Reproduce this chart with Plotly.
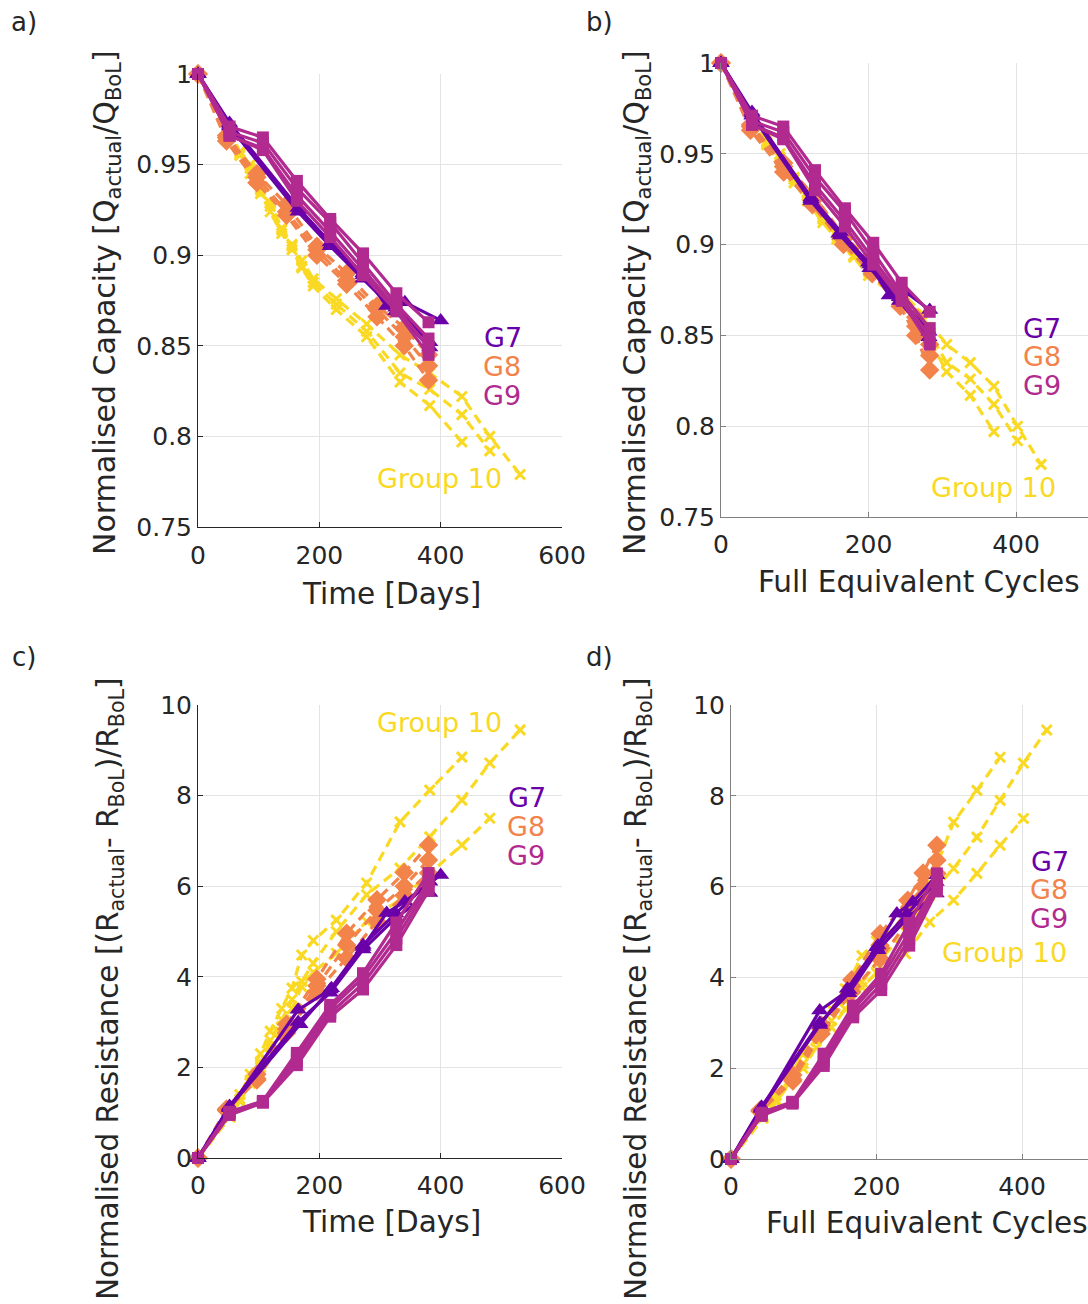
import plotly.graph_objects as go

# ---------------- data ----------------
# Group 7 (three cells)
g7_days = [[0, 52, 168, 220, 272, 311, 341, 400],
           [0, 52, 165, 218, 272, 326, 382],
           [0, 52, 165, 218, 272, 326, 382]]
g7_fec = [[0, 42, 122, 160, 200, 228, 250, 283],
          [0, 42, 122, 162, 202, 242, 282],
          [0, 42, 122, 162, 202, 242, 282]]
g7_cap = [[1, 0.973, 0.925, 0.906, 0.890, 0.872, 0.874, 0.864],
          [1, 0.972, 0.926, 0.907, 0.889, 0.871, 0.852],
          [1, 0.971, 0.924, 0.905, 0.887, 0.869, 0.849]]
g7_res = [[0, 1.12, 2.95, 3.75, 4.66, 5.41, 5.66, 6.25],
          [0, 1.10, 3.27, 3.72, 4.70, 5.40, 6.10],
          [0, 1.15, 3.00, 3.65, 4.60, 5.30, 5.85]]

# Group 8 (three cells)
g8_days = [[0, 47, 97, 146, 196, 245, 295, 340, 380]] * 3
g8_fec = [[0, 40, 85, 124, 166, 205, 243, 264, 283]] * 3
g8_cap = [[1, 0.966, 0.945, 0.928, 0.905, 0.890, 0.872, 0.860, 0.845],
          [1, 0.965, 0.943, 0.924, 0.903, 0.886, 0.870, 0.855, 0.839],
          [1, 0.963, 0.940, 0.922, 0.900, 0.884, 0.866, 0.850, 0.831]]
g8_res = [[0, 1.05, 1.72, 2.76, 3.68, 4.41, 5.22, 5.80, 6.29],
          [0, 1.06, 1.75, 2.85, 3.80, 4.70, 5.47, 6.00, 6.58],
          [0, 1.08, 1.85, 2.95, 3.95, 4.96, 5.70, 6.30, 6.91]]

# Group 9 (four cells)
g9_days = [[0, 52, 107, 163, 218, 272, 327, 380]] * 4
g9_fec = [[0, 42, 84.5, 127.5, 168, 206.5, 245, 283]] * 4
g9_cap = [[1, 0.971, 0.965, 0.941, 0.920, 0.901, 0.879, 0.863],
          [1, 0.968, 0.962, 0.937, 0.918, 0.896, 0.873, 0.854],
          [1, 0.966, 0.959, 0.933, 0.913, 0.892, 0.871, 0.849],
          [1, 0.966, 0.958, 0.930, 0.910, 0.889, 0.869, 0.845]]
g9_res = [[0, 0.95, 1.22, 2.05, 3.12, 3.72, 4.70, 5.90],
          [0, 0.98, 1.24, 2.15, 3.20, 3.85, 4.85, 6.00],
          [0, 1.00, 1.25, 2.25, 3.30, 3.98, 5.00, 6.10],
          [0, 1.02, 1.26, 2.32, 3.38, 4.08, 5.20, 6.29]]

# Group 10 (three cells)
g10_days_all = [0, 53, 69, 86, 103, 119, 138, 155, 171, 190, 228, 278, 333, 382, 435, 481, 531]
g10_fec_all = [0, 44, 62, 80, 99, 117, 138, 157, 180, 200, 240, 273, 306, 338, 370, 402, 434]
g10_len = [15, 17, 16]
g10_cap = [[1, 0.967, 0.955, 0.945, 0.934, 0.924, 0.912, 0.903, 0.893, 0.883, 0.870, 0.855, 0.830, 0.817, 0.797],
           [1, 0.968, 0.957, 0.950, 0.937, 0.929, 0.915, 0.906, 0.897, 0.887, 0.876, 0.862, 0.845, 0.835, 0.822, 0.800, 0.779],
           [1, 0.968, 0.956, 0.948, 0.936, 0.927, 0.914, 0.905, 0.894, 0.885, 0.873, 0.858, 0.835, 0.826, 0.812, 0.792]]
g10_res = [[0, 0.95, 1.40, 1.85, 2.30, 2.80, 3.30, 3.75, 4.48, 4.80, 5.25, 6.07, 7.42, 8.12, 8.85],
           [0, 0.92, 1.30, 1.72, 2.10, 2.60, 3.05, 3.50, 3.90, 4.30, 5.00, 5.81, 6.40, 7.09, 7.90, 8.72, 9.45],
           [0, 0.90, 1.25, 1.65, 2.00, 2.45, 2.90, 3.30, 3.78, 4.10, 4.52, 5.22, 5.70, 6.29, 6.91, 7.50]]

group_labels = ["G7", "G8", "G9", "Group 10"]
cap_ticks = [0.75, 0.8, 0.85, 0.9, 0.95, 1]
cap_ticktext = ["0.75", "0.8", "0.85", "0.9", "0.95", "1"]
res_ticks = [0, 2, 4, 6, 8, 10]
day_ticks = [0, 200, 400, 600]
fec_ticks = [0, 200, 400]

# ---------------- style ----------------
C7 = "#6a00a8"
C8 = "#f2844b"
C9 = "#b12a90"
C10 = "#f9d923"
FONT = "DejaVu Sans"
W, H = 1088, 1304

styles = {
    "G7": dict(color=C7, dash="solid", symbol="triangle-up", size=15),
    "G8": dict(color=C8, dash="10px,6px", symbol="diamond", size=15),
    "G9": dict(color=C9, dash="solid", symbol="square", size=12),
    "G10": dict(color=C10, dash="10px,6px", symbol="x-thin-open", size=10),
}

fig = go.Figure()

panels = [("x", "y", "days", "cap"), ("x2", "y2", "fec", "cap"),
          ("x3", "y3", "days", "res"), ("x4", "y4", "fec", "res")]

def add_cell(key, xs, ys, xa, ya):
    s = styles[key]
    marker = dict(symbol=s["symbol"], size=s["size"], color=s["color"])
    if key == "G10":
        marker["line"] = dict(color=s["color"], width=3)
    fig.add_trace(go.Scatter(x=xs, y=ys, xaxis=xa, yaxis=ya, mode="lines+markers",
                             line=dict(color=s["color"], width=3.2, dash=s["dash"]),
                             marker=marker, cliponaxis=False, showlegend=False,
                             hoverinfo="skip"))

for xa, ya, xk, yk in panels:
    for i, n in enumerate(g10_len):
        xs = (g10_days_all if xk == "days" else g10_fec_all)[:n]
        ys = g10_cap[i] if yk == "cap" else g10_res[i]
        add_cell("G10", xs, ys, xa, ya)
    for i in range(3):
        xs = g8_days[i] if xk == "days" else g8_fec[i]
        ys = g8_cap[i] if yk == "cap" else g8_res[i]
        add_cell("G8", xs, ys, xa, ya)
    for i in range(3):
        xs = g7_days[i] if xk == "days" else g7_fec[i]
        ys = g7_cap[i] if yk == "cap" else g7_res[i]
        add_cell("G7", xs, ys, xa, ya)
    for i in range(4):
        xs = g9_days[i] if xk == "days" else g9_fec[i]
        ys = g9_cap[i] if yk == "cap" else g9_res[i]
        add_cell("G9", xs, ys, xa, ya)

def px_x(p):
    return p / W

def px_y(p):
    return 1 - p / H

def axis(linecolor, dom, rng, tickvals, ticktext=None, anchor=None, standoff=0):
    d = dict(domain=dom, range=rng, tickvals=tickvals, showgrid=True,
             gridcolor="#e3e3e3", gridwidth=1, showline=True, linecolor=linecolor,
             linewidth=1, ticks="inside", ticklen=5, tickcolor=linecolor,
             tickfont=dict(family=FONT, size=25, color="#262626"),
             zeroline=False, fixedrange=True, anchor=anchor, automargin=False,
             ticklabelstandoff=standoff)
    if ticktext is not None:
        d["ticktext"] = ticktext
    return d

DARK = "#262626"
GREY = "#808080"

fig.update_layout(
    template="none",
    width=W, height=H, margin=dict(l=0, r=0, t=0, b=0, autoexpand=False),
    paper_bgcolor="white", plot_bgcolor="white", showlegend=False,
    xaxis=axis(DARK, [px_x(198), px_x(562)], [0, 600], day_ticks, anchor="y", standoff=6),
    yaxis=axis(DARK, [px_y(527), px_y(74)], [0.75, 1.0], cap_ticks, cap_ticktext, anchor="x"),
    xaxis2=axis(GREY, [px_x(721), 1], [0, (W - 721) / 0.7375], fec_ticks, anchor="y2", standoff=5),
    yaxis2=axis(GREY, [px_y(517), px_y(63)], [0.75, 1.0], cap_ticks, cap_ticktext, anchor="x2"),
    xaxis3=axis(DARK, [px_x(198), px_x(562)], [0, 600], day_ticks, anchor="y3", standoff=5),
    yaxis3=axis(DARK, [px_y(1158), px_y(705)], [0, 10], res_ticks, anchor="x3"),
    xaxis4=axis(GREY, [px_x(731), 1], [0, (W - 731) / 0.7275], fec_ticks, anchor="y4", standoff=5),
    yaxis4=axis(GREY, [px_y(1159), px_y(705)], [0, 10], res_ticks, anchor="x4"),
)

annots = []

def txt(text, x, y, size, color="#262626", angle=0, xanchor="center"):
    annots.append(dict(text=text, x=px_x(x), y=px_y(y), xref="paper", yref="paper",
                       showarrow=False, textangle=angle, xanchor=xanchor, yanchor="middle",
                       font=dict(family=FONT, size=size, color=color)))

# panel letters
txt("a)", 24, 22, 26)
txt("b)", 599, 22, 26)
txt("c)", 24, 657, 26)
txt("d)", 599, 657, 26)

cap_title = "Normalised Capacity [Q<sub>actual</sub>/Q<sub>BoL</sub>]"
res_title = "Normalised Resistance [(R<sub>actual</sub>- R<sub>BoL</sub>)/R<sub>BoL</sub>]"
txt(cap_title, 106, 303, 30, angle=-90)
txt(cap_title, 636, 303, 30, angle=-90)
txt(res_title, 110, 989, 29.5, angle=-90)
txt(res_title, 638, 989, 29.5, angle=-90)

txt("Time [Days]", 391, 594, 29.5)
txt("Full Equivalent Cycles", 919, 582, 29.5)
txt("Time [Days]", 391, 1222, 29.5)
txt("Full Equivalent Cycles", 927, 1223, 29.5)

# group labels
lab_pos = {
    "a": [(503, 337), (502, 366), (502, 395), (439, 478)],
    "b": [(1042, 328), (1042, 357), (1042, 386), (993, 487)],
    "c": [(527, 797), (526, 826), (526, 855), (439, 722)],
    "d": [(1050, 861), (1049, 890), (1049, 918), (1004, 952)],
}
lab_cols = [C7, C8, C9, C10]
for pan, pos in lab_pos.items():
    for (x, y), lab, col in zip(pos, group_labels, lab_cols):
        txt(lab, x, y, 27, color=col)

fig.update_layout(annotations=annots)
fig.write_html("out.html")
